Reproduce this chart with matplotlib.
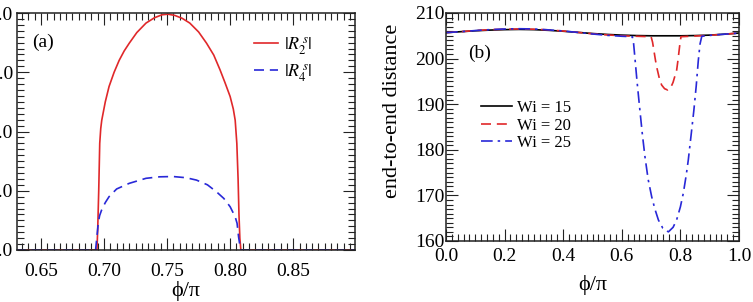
import matplotlib
matplotlib.use("Agg")
import matplotlib.pyplot as plt
from matplotlib.ticker import MultipleLocator

plt.rcParams['font.family'] = ['Liberation Serif', 'DejaVu Serif']
plt.rcParams['mathtext.fontset'] = 'stix'

# (a) order parameters vs phi/pi
phi_r2 = [0.630, 0.6944, 0.6950, 0.6958, 0.6966, 0.6974, 0.6982, 0.7010, 0.7040, 0.7080,
          0.7120, 0.7160, 0.7200, 0.7260, 0.7333, 0.7400, 0.7460, 0.7507, 0.7560, 0.7620,
          0.7680, 0.7750, 0.7813, 0.7870, 0.7920, 0.7960, 0.8000, 0.8025, 0.8040, 0.8053,
          0.8063, 0.8070, 0.8077, 0.8085, 0.900]
r2 = [0, 0, 0.35, 1.0, 1.8, 2.05, 2.19, 2.50, 2.76, 3.00,
      3.20, 3.36, 3.49, 3.67, 3.83, 3.92, 3.97, 3.98, 3.96, 3.91,
      3.83, 3.68, 3.49, 3.29, 3.04, 2.82, 2.59, 2.38, 2.19, 1.80,
      1.2, 0.6, 0.2, 0, 0]

phi_r4 = [0.630, 0.6933, 0.6945, 0.6954, 0.6965, 0.6980, 0.7010, 0.7040, 0.7100, 0.7200,
          0.7333, 0.7440, 0.7547, 0.7650, 0.7733, 0.7820, 0.7893, 0.7950, 0.8000, 0.8040,
          0.8055, 0.8067, 0.8077, 0.8085, 0.900]
r4 = [0, 0, 0.25, 0.45, 0.58, 0.67, 0.80, 0.90, 1.03, 1.125,
      1.21, 1.235, 1.24, 1.22, 1.18, 1.10, 0.98, 0.87, 0.73, 0.56,
      0.45, 0.22, 0.08, 0, 0]

# (b) end-to-end distance vs phi/pi
phi_15 = [0.0, 0.05, 0.1, 0.15, 0.2, 0.25, 0.3, 0.35, 0.4, 0.45, 0.5,
          0.55, 0.6, 0.65, 0.7, 0.75, 0.8, 0.85, 0.9, 0.95, 1.0]
wi15 = [205.7, 205.9, 206.1, 206.25, 206.35, 206.4, 206.35, 206.2, 206.0, 205.75, 205.5,
        205.3, 205.15, 205.05, 205.0, 205.0, 205.0, 205.05, 205.15, 205.35, 205.6]

phi_20 = [0.0, 0.05, 0.1, 0.15, 0.2, 0.25, 0.3, 0.35, 0.4, 0.45, 0.5, 0.55, 0.6, 0.65,
          0.700, 0.705, 0.710, 0.715, 0.720, 0.728, 0.736, 0.746, 0.757, 0.766, 0.775,
          0.7873, 0.792, 0.7986, 0.802, 0.85, 0.9, 0.95, 1.0]
wi20 = [205.7, 205.9, 206.15, 206.35, 206.45, 206.5, 206.45, 206.3, 206.05, 205.75, 205.45, 205.2, 205.0, 204.9,
        204.8, 203.6, 201.6, 199.6, 197.9, 195.7, 194.2, 193.4, 193.1, 193.5, 194.8,
        197.5, 199.8, 203.4, 204.8, 204.95, 205.1, 205.35, 205.6]

phi_25 = [0.0, 0.05, 0.1, 0.15, 0.2, 0.25, 0.3, 0.35, 0.4, 0.45, 0.5, 0.55, 0.6,
          0.636, 0.640, 0.645, 0.652, 0.660, 0.670, 0.679, 0.690, 0.702, 0.713, 0.725,
          0.740, 0.759, 0.775, 0.787, 0.800, 0.810, 0.820, 0.827, 0.837, 0.846, 0.854,
          0.861, 0.867, 0.873, 0.9, 0.95, 1.0]
wi25 = [205.7, 205.9, 206.15, 206.35, 206.5, 206.55, 206.5, 206.3, 206.05, 205.75, 205.4, 205.1, 204.9,
        204.8, 203.5, 200.0, 195.0, 189.8, 183.5, 178.5, 173.5, 169.7, 167.0, 164.6,
        162.8, 162.0, 163.0, 164.6, 167.5, 170.5, 174.5, 177.8, 183.5, 188.7, 194.0,
        199.5, 203.2, 204.9, 205.1, 205.35, 205.6]

RED = '#e0282a'
BLUE = '#2828d8'
DASH = (0, (6, 3.5))
DASHDOT = (0, (7, 3, 1.5, 3))


def style_axes(ax, xmin, ymin, pad):
    ax.xaxis.set_minor_locator(MultipleLocator(xmin))
    ax.yaxis.set_minor_locator(MultipleLocator(ymin))
    ax.tick_params(which='both', direction='in', top=True, right=True, width=0.8, colors='#222222',
                   labelcolor='black', labelsize=14)
    ax.tick_params(which='major', length=8.5)
    ax.tick_params(which='minor', length=5)
    ax.tick_params(axis='x', pad=pad)
    for sp in ax.spines.values():
        sp.set_linewidth(1.1)
        sp.set_color('#222222')


fig = plt.figure(figsize=(7.53, 3.02), dpi=100)

axA = fig.add_axes([17 / 753, 52 / 302, 338 / 753, 237 / 302])
axA.plot(phi_r2, r2, color=RED, lw=1.2, label=r'$|R_2^{\,s}|$')
axA.plot(phi_r4, r4, color=BLUE, lw=1.2, ls=DASH, label=r'$|R_4^{\,s}|$')
axA.set_xlim(0.631, 0.899)
axA.set_ylim(0, 4)
axA.set_xticks([0.65, 0.70, 0.75, 0.80, 0.85])
axA.set_yticks([0, 1, 2, 3, 4])
axA.set_yticklabels(['0.0', '1.0', '2.0', '3.0', '4.0'])
style_axes(axA, 0.005, 0.1, 9)
axA.tick_params(axis='y', pad=3)
axA.set_xlabel('ϕ/π', fontsize=16, labelpad=1)
axA.text(0.044, 0.878, '(a)', transform=axA.transAxes, fontsize=14, va='center')
axA.legend(loc='upper left', bbox_to_anchor=(0.675, 0.945), frameon=False, fontsize=13,
           handlelength=1.3, handletextpad=0.35, borderpad=0, labelspacing=0.3)

axB = fig.add_axes([446 / 753, 61 / 302, 293 / 753, 228 / 302])
axB.plot(phi_15, wi15, color='black', lw=1.2, label='Wi = 15')
axB.plot(phi_20, wi20, color=RED, lw=1.2, ls=DASH, label='Wi = 20')
axB.plot(phi_25, wi25, color=BLUE, lw=1.2, ls=DASHDOT, label='Wi = 25')
axB.set_xlim(0, 1)
axB.set_ylim(160, 210)
axB.set_xticks([0.0, 0.2, 0.4, 0.6, 0.8, 1.0])
axB.set_xticklabels(['0.0', '0.2', '0.4', '0.6', '0.8', '1.0'])
style_axes(axB, 0.02, 1, 5)
axB.tick_params(axis='y', pad=1)
axB.set_xlabel('ϕ/π', fontsize=16, labelpad=7)
axB.set_ylabel('end-to-end distance', fontsize=16)
axB.yaxis.set_label_coords(-0.15, 0.57)
axB.text(0.075, 0.823, '(b)', transform=axB.transAxes, fontsize=14, va='center')
axB.legend(loc='upper left', bbox_to_anchor=(0.092, 0.655), frameon=False, fontsize=12,
           handlelength=1.85, handletextpad=0.3, borderpad=0, labelspacing=0.1)

fig.savefig('out.png', dpi=100)
